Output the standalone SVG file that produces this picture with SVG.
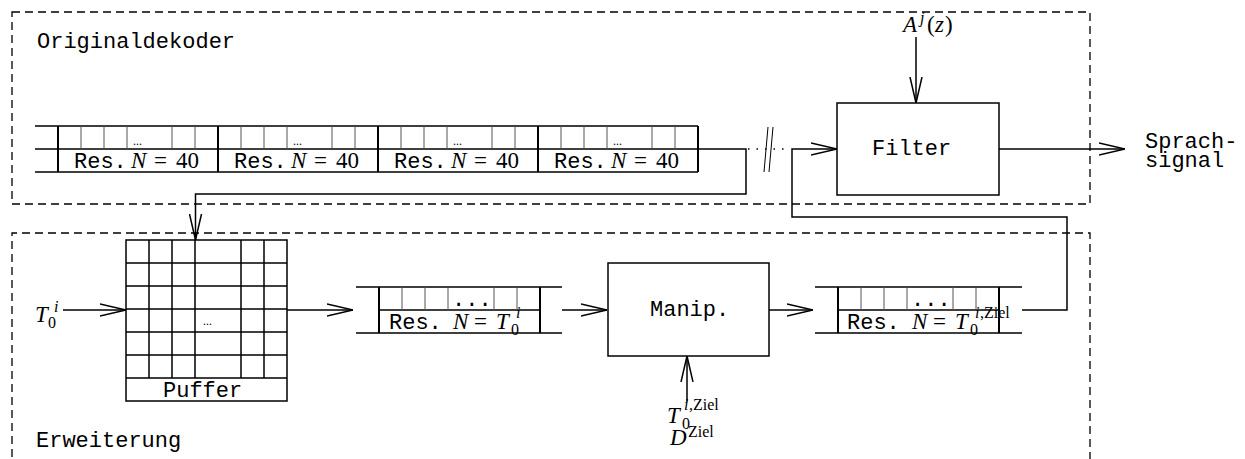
<svg xmlns="http://www.w3.org/2000/svg" width="1245" height="459" viewBox="0 0 1245 459">
<style>
.ln{stroke:#000;stroke-width:1.5;fill:none}
.th{stroke:#000;stroke-width:2;fill:none}
.tn{stroke:#555;stroke-width:1;fill:none}
.dash{stroke:#000;stroke-width:1.3;stroke-dasharray:8 5;fill:none}
.mono{font-family:"Liberation Mono",monospace;font-size:22px;fill:#000}
.mi{font-family:"Liberation Serif",serif;font-style:italic;font-size:23px;fill:#000}
.mr{font-family:"Liberation Serif",serif;font-size:23px;fill:#000}
.s{font-size:16px}
.el{font-family:"Liberation Serif",serif;font-size:12px;fill:#000}
</style>
<defs>
<marker id="arr" viewBox="0 0 26 14" refX="26" refY="7" markerWidth="26" markerHeight="14" markerUnits="userSpaceOnUse" orient="auto">
<path d="M0,1 L26,7 L0,13" fill="none" stroke="#000" stroke-width="1.5"/>
</marker>
</defs>
<rect fill="#fff" x="0" y="0" width="1245" height="459"/>

<g id="originaldekoder">
<rect class="dash" x="12" y="12" width="1078" height="192"/>
<text class="mono" x="37" y="48">Originaldekoder</text>
</g>
<g id="erweiterung">
<path class="dash" d="M12,470 V233 H1090 V470"/>
<text class="mono" x="36" y="447">Erweiterung</text>
</g>

<g id="res40">
<path class="ln" d="M35,126 H698 M35,149 H698 M35,172 H698"/>
<path class="th" d="M58,126 V172 M218,126 V172 M378,126 V172 M538,126 V172 M698,126 V172"/>
<path class="tn" d="M81,126 V149 M104,126 V149 M127,126 V149 M172,126 V149 M195,126 V149 M241,126 V149 M264,126 V149 M287,126 V149 M332,126 V149 M355,126 V149 M401,126 V149 M424,126 V149 M447,126 V149 M492,126 V149 M515,126 V149 M561,126 V149 M584,126 V149 M607,126 V149 M652,126 V149 M675,126 V149"/>
<text class="el" x="133" y="145">...</text>
<text class="el" x="293" y="145">...</text>
<text class="el" x="453" y="145">...</text>
<text class="el" x="613" y="145">...</text>
<text class="mono" x="74" y="168">Res.</text><text class="mi" x="131" y="168">N</text><text class="mr" x="154" y="168">=</text><text class="mr" x="176" y="168">40</text>
<text class="mono" x="234" y="168">Res.</text><text class="mi" x="291" y="168">N</text><text class="mr" x="314" y="168">=</text><text class="mr" x="336" y="168">40</text>
<text class="mono" x="394" y="168">Res.</text><text class="mi" x="451" y="168">N</text><text class="mr" x="474" y="168">=</text><text class="mr" x="496" y="168">40</text>
<text class="mono" x="554" y="168">Res.</text><text class="mi" x="611" y="168">N</text><text class="mr" x="634" y="168">=</text><text class="mr" x="656" y="168">40</text>
</g>

<g id="filter">
<rect class="ln" x="837" y="103" width="162" height="92"/>
<text class="mono" x="872" y="155">Filter</text>
</g>
<g id="aj">
<text class="mi" x="903" y="32">A</text><text class="mi s" x="920" y="23">j</text><text class="mr" x="927" y="32">(</text><text class="mi" x="935" y="32">z</text><text class="mr" x="945" y="32">)</text>
</g>
<g id="sprachsignal">
<text class="mono" x="1145" y="148">Sprach-</text>
<text class="mono" x="1145" y="167">signal</text>
</g>

<g id="puffer">
<rect class="ln" x="126" y="240" width="161" height="161"/>
<path class="ln" d="M126,263 H287 M126,286 H287 M126,309 H287 M126,332 H287 M126,355 H287 M126,378 H287 M149,240 V378 M172,240 V378 M195,240 V378 M241,240 V378 M264,240 V378"/>
<text class="el" x="203" y="325">...</text>
<text class="mono" x="163" y="397">Puffer</text>
</g>
<g id="t0in">
<text class="mi" x="35" y="322">T</text><text class="mr s" x="48" y="328">0</text><text class="mi s" x="54" y="312">i</text>
</g>

<g id="resT0">
<path class="ln" d="M356,287 H562 M356,333 H562 M379,310 H540"/>
<path class="th" d="M379,287 V333 M540,287 V333"/>
<path class="tn" d="M402,287 V310 M425,287 V310 M448,287 V310 M494,287 V310 M517,287 V310"/>
<text class="mono" x="452" y="306">...</text>
<text class="mono" x="389" y="329">Res.</text><text class="mi" x="453" y="329">N</text><text class="mr" x="474" y="329">=</text><text class="mi" x="496" y="329">T</text><text class="mr s" x="511" y="335">0</text><text class="mi s" x="516" y="318">i</text>
</g>

<g id="manip">
<rect class="ln" x="608" y="263" width="161" height="93"/>
<text class="mono" x="650" y="316">Manip.</text>
</g>
<g id="ziel">
<text class="mi" x="667" y="423">T</text><text class="mr s" x="682" y="429">0</text><text class="mi s" x="684" y="410">i</text><text class="mr s" x="689" y="410">,Ziel</text>
<text class="mi" x="670" y="445">D</text><text class="mr s" x="688" y="437">Ziel</text>
</g>

<g id="resT0Ziel">
<path class="ln" d="M815,287 H1022 M815,333 H1022 M838,310 H999"/>
<path class="th" d="M838,287 V333 M999,287 V333"/>
<path class="tn" d="M861,287 V310 M884,287 V310 M907,287 V310 M953,287 V310 M976,287 V310"/>
<text class="mono" x="911" y="306">...</text>
<text class="mono" x="847" y="329">Res.</text><text class="mi" x="912" y="329">N</text><text class="mr" x="933" y="329">=</text><text class="mi" x="955" y="329">T</text><text class="mr s" x="970" y="335">0</text><text class="mi s" x="975" y="318">i</text><text class="mr s" x="980" y="318">,Ziel</text>
</g>

<g id="connectors">
<path class="ln" d="M916,37 V103" marker-end="url(#arr)"/>
<path class="ln" d="M999,149 H1125" marker-end="url(#arr)"/>
<path class="ln" d="M698,149 H746 V194 H195.5 V240" marker-end="url(#arr)"/>
<path d="M748,149 H790" stroke="#000" stroke-width="1.3" stroke-dasharray="1.5 7" fill="none"/>
<path d="M768,127 L764,172 M773,127 L769,172" stroke="#000" stroke-width="1" fill="none"/>
<path class="ln" d="M1022,310 H1067 V217 H792 V149 H837" marker-end="url(#arr)"/>
<path class="ln" d="M63,310 H126" marker-end="url(#arr)"/>
<path class="ln" d="M287,310 H353" marker-end="url(#arr)"/>
<path class="ln" d="M562,310 H607" marker-end="url(#arr)"/>
<path class="ln" d="M769,310 H813" marker-end="url(#arr)"/>
<path class="ln" d="M687,402 V356" marker-end="url(#arr)"/>
</g>
</svg>
